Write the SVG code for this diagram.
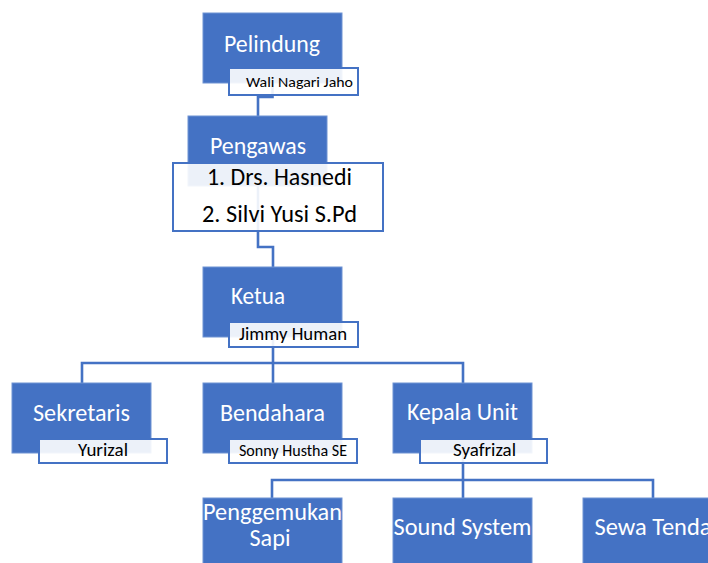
<svg xmlns="http://www.w3.org/2000/svg" width="708" height="563" viewBox="0 0 708 563">
<style>
.box{fill:#4472C4;stroke:#6F93D3;stroke-width:1}
.lbl{fill:#FFFFFF;fill-opacity:0.9;stroke:#4472C4;stroke-width:2}
.conn{fill:none;stroke:#4472C4;stroke-width:2.6}
.t{font-family:Carlito,Lato,"Liberation Sans",sans-serif;fill:#FFFFFF;font-size:24px;text-anchor:middle}
.s{font-family:Carlito,Lato,"Liberation Sans",sans-serif;fill:#000000;text-anchor:middle}
</style>
<rect width="708" height="563" fill="#FFFFFF"/>
<g id="connectors">
<path class="conn" d="M272.5 83 V97 H258 V116"/>
<path class="conn" d="M258 186 V247 H273 V267"/>
<path class="conn" d="M273 337 V363"/>
<path class="conn" d="M82 383 V363 H463 V383"/>
<path class="conn" d="M273 363 V383"/>
<path class="conn" d="M463 453 V480"/>
<path class="conn" d="M272 498 V480 H653 V498"/>
<path class="conn" d="M463 480 V498"/>
</g>
<g id="pelindung">
<rect class="box" x="203" y="13" width="139" height="70"/>
<text class="t" x="272" y="52" textLength="96" lengthAdjust="spacingAndGlyphs">Pelindung</text>
<rect class="lbl" x="229" y="68" width="129" height="27"/>
<text class="s" x="299.5" y="87" font-size="15" textLength="107" lengthAdjust="spacingAndGlyphs">Wali Nagari Jaho</text>
</g>
<g id="pengawas">
<rect class="box" x="188" y="116" width="139" height="70"/>
<text class="t" x="258" y="154" textLength="96" lengthAdjust="spacingAndGlyphs">Pengawas</text>
<rect class="lbl" x="173" y="163" width="210" height="68"/>
<text class="s" x="279.5" y="185" font-size="24" textLength="145" lengthAdjust="spacingAndGlyphs">1. Drs. Hasnedi</text>
<text class="s" x="279.5" y="222" font-size="24" textLength="155" lengthAdjust="spacingAndGlyphs">2. Silvi Yusi S.Pd</text>
</g>
<g id="ketua">
<rect class="box" x="203" y="267" width="139" height="70"/>
<text class="t" x="258" y="304" textLength="54" lengthAdjust="spacingAndGlyphs">Ketua</text>
<rect class="lbl" x="229" y="322" width="129" height="25"/>
<text class="s" x="293" y="340" font-size="18.5" textLength="108" lengthAdjust="spacingAndGlyphs">Jimmy Human</text>
</g>
<g id="sekretaris">
<rect class="box" x="12" y="383" width="139" height="70"/>
<text class="t" x="81.5" y="421" textLength="97" lengthAdjust="spacingAndGlyphs">Sekretaris</text>
<rect class="lbl" x="39" y="439" width="128" height="24"/>
<text class="s" x="103" y="456" font-size="18.5" textLength="50" lengthAdjust="spacingAndGlyphs">Yurizal</text>
</g>
<g id="bendahara">
<rect class="box" x="203" y="383" width="139" height="70"/>
<text class="t" x="272.5" y="421" textLength="105" lengthAdjust="spacingAndGlyphs">Bendahara</text>
<rect class="lbl" x="229" y="439" width="128" height="24"/>
<text class="s" x="293" y="456" font-size="16" textLength="108" lengthAdjust="spacingAndGlyphs">Sonny Hustha SE</text>
</g>
<g id="kepala-unit">
<rect class="box" x="393" y="383" width="139" height="70"/>
<text class="t" x="462.5" y="420" textLength="111" lengthAdjust="spacingAndGlyphs">Kepala Unit</text>
<rect class="lbl" x="420" y="439" width="127" height="24"/>
<text class="s" x="484.5" y="456" font-size="18.5" textLength="63" lengthAdjust="spacingAndGlyphs">Syafrizal</text>
</g>
<g id="penggemukan-sapi">
<rect class="box" x="203" y="498" width="139" height="70"/>
<text class="t" x="272.5" y="520" textLength="139" lengthAdjust="spacingAndGlyphs">Penggemukan</text>
<text class="t" x="270" y="546" textLength="41" lengthAdjust="spacingAndGlyphs">Sapi</text>
</g>
<g id="sound-system">
<rect class="box" x="393" y="498" width="139" height="70"/>
<text class="t" x="462.5" y="535" textLength="138" lengthAdjust="spacingAndGlyphs">Sound System</text>
</g>
<g id="sewa-tenda">
<rect class="box" x="583" y="498" width="139" height="70"/>
<text class="t" x="653" y="535" textLength="117" lengthAdjust="spacingAndGlyphs">Sewa Tenda</text>
</g>
</svg>
